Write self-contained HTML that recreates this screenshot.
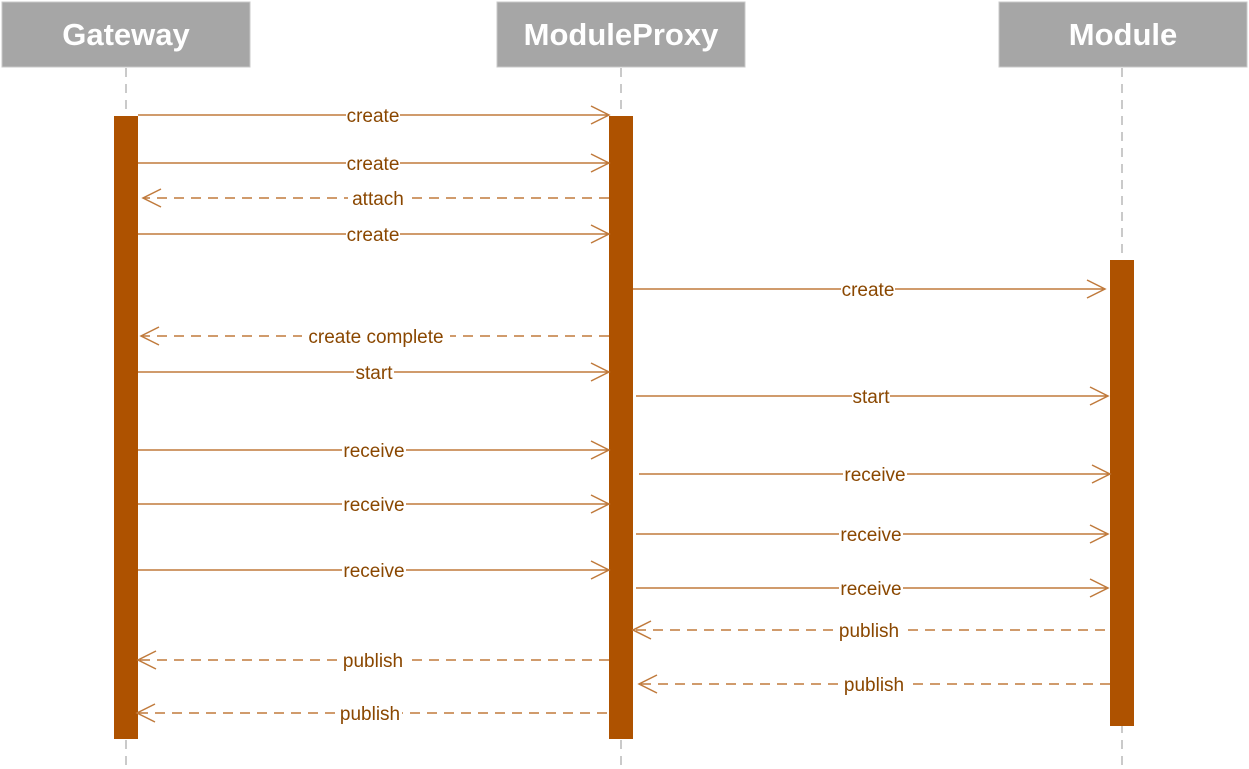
<!DOCTYPE html>
<html><head><meta charset="utf-8"><style>
html,body{margin:0;padding:0;background:#fff;}
svg{display:block;}
.h{font-family:"Liberation Sans",sans-serif;font-weight:bold;font-size:31px;fill:#fff;text-anchor:middle;}
.l{font-family:"Liberation Sans",sans-serif;font-size:19px;fill:#8a4700;text-anchor:middle;}
.m{stroke:#c07a3c;stroke-width:1.5;fill:none;}
.d{stroke-dasharray:10,7;}
</style></head><body>
<svg width="1249" height="769" viewBox="0 0 1249 769" xmlns="http://www.w3.org/2000/svg">
<g stroke="#a6a6a6" stroke-width="1.2" stroke-dasharray="9,7">
<line x1="126" y1="68" x2="126" y2="769"/>
<line x1="621" y1="68" x2="621" y2="769"/>
<line x1="1122" y1="68" x2="1122" y2="769"/>
</g>
<rect x="2" y="2" width="248" height="65" fill="#a6a6a6" stroke="#c8c8c8"/>
<rect x="497" y="2" width="248" height="65" fill="#a6a6a6" stroke="#c8c8c8"/>
<rect x="999" y="2" width="248" height="65" fill="#a6a6a6" stroke="#c8c8c8"/>
<text class="h" x="126" y="45">Gateway</text>
<text class="h" x="621" y="45">ModuleProxy</text>
<text class="h" x="1123" y="45">Module</text>
<rect x="114" y="116" width="24" height="623" fill="#ae5200"/>
<rect x="609" y="116" width="24" height="623" fill="#ae5200"/>
<rect x="1110" y="260" width="24" height="466" fill="#ae5200"/>
<g class="m">
<path d="M138 115H609M591 106L609 115L591 124"/>
<path d="M138 163H609M591 154L609 163L591 172"/>
<path d="M138 234H609M591 225L609 234L591 243"/>
<path d="M633 289H1105M1087 280L1105 289L1087 298"/>
<path d="M138 372H609M591 363L609 372L591 381"/>
<path d="M636 396H1108M1090 387L1108 396L1090 405"/>
<path d="M138 450H609M591 441L609 450L591 459"/>
<path d="M639 474H1110M1092 465L1110 474L1092 483"/>
<path d="M138 504H609M591 495L609 504L591 513"/>
<path d="M636 534H1108M1090 525L1108 534L1090 543"/>
<path d="M138 570H609M591 561L609 570L591 579"/>
<path d="M636 588H1108M1090 579L1108 588L1090 597"/>
<path class="d" d="M609 198H143"/><path d="M161 189L143 198L161 207"/>
<path class="d" d="M609 336H141"/><path d="M159 327L141 336L159 345"/>
<path class="d" d="M1105 630H633"/><path d="M651 621L633 630L651 639"/>
<path class="d" d="M609 660H138"/><path d="M156 651L138 660L156 669"/>
<path class="d" d="M1110 684H639"/><path d="M657 675L639 684L657 693"/>
<path class="d" d="M607 713H137"/><path d="M155 704L137 713L155 722"/>
</g>
<g fill="#fff">
<rect x="346" y="104" width="54" height="22"/>
<rect x="346" y="152" width="54" height="22"/>
<rect x="348" y="187" width="60" height="22"/>
<rect x="346" y="223" width="54" height="22"/>
<rect x="841" y="278" width="54" height="22"/>
<rect x="302" y="325" width="148" height="22"/>
<rect x="354" y="361" width="40" height="22"/>
<rect x="852" y="385" width="38" height="22"/>
<rect x="342" y="439" width="64" height="22"/>
<rect x="843" y="463" width="64" height="22"/>
<rect x="342" y="493" width="64" height="22"/>
<rect x="839" y="523" width="64" height="22"/>
<rect x="342" y="559" width="64" height="22"/>
<rect x="839" y="577" width="64" height="22"/>
<rect x="837" y="619" width="64" height="22"/>
<rect x="341" y="649" width="64" height="22"/>
<rect x="842" y="673" width="64" height="22"/>
<rect x="338" y="702" width="64" height="22"/>
</g>
<text class="l" x="373" y="122">create</text>
<text class="l" x="373" y="170">create</text>
<text class="l" x="378" y="205">attach</text>
<text class="l" x="373" y="241">create</text>
<text class="l" x="868" y="296">create</text>
<text class="l" x="376" y="343">create complete</text>
<text class="l" x="374" y="379">start</text>
<text class="l" x="871" y="403">start</text>
<text class="l" x="374" y="457">receive</text>
<text class="l" x="875" y="481">receive</text>
<text class="l" x="374" y="511">receive</text>
<text class="l" x="871" y="541">receive</text>
<text class="l" x="374" y="577">receive</text>
<text class="l" x="871" y="595">receive</text>
<text class="l" x="869" y="637">publish</text>
<text class="l" x="373" y="667">publish</text>
<text class="l" x="874" y="691">publish</text>
<text class="l" x="370" y="720">publish</text>
</svg>
</body></html>
